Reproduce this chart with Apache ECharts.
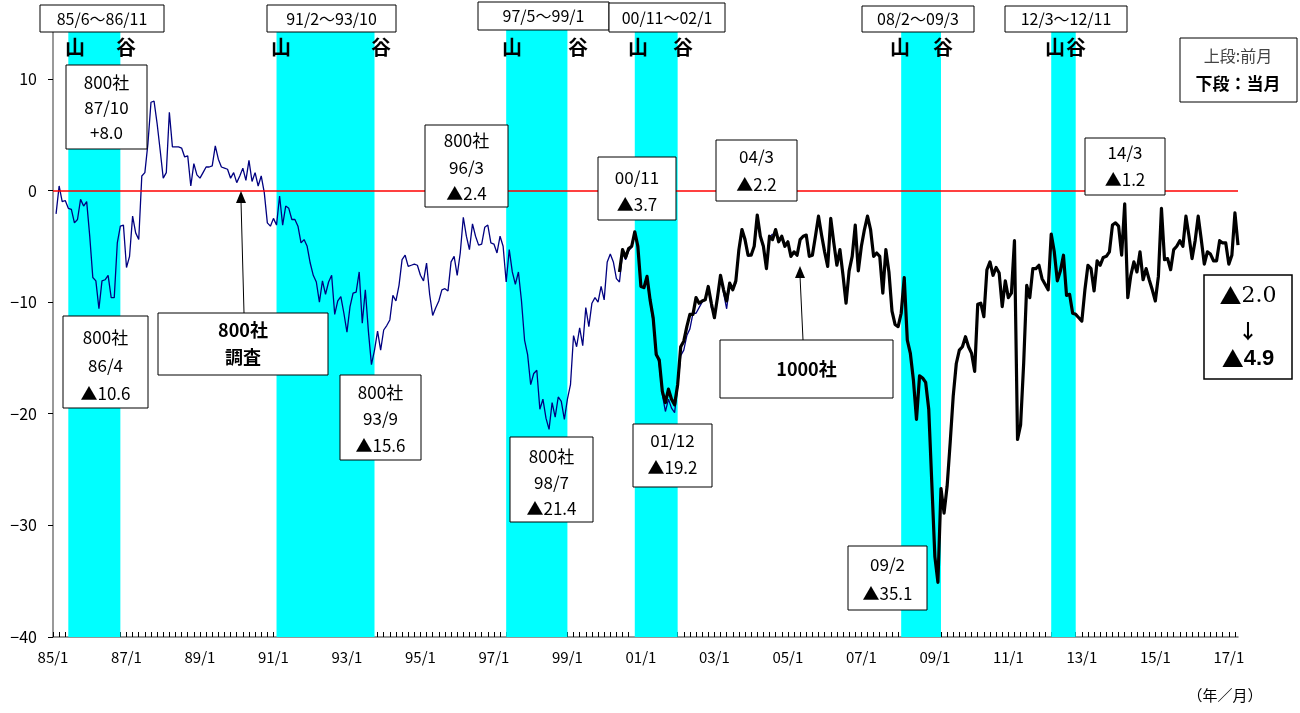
<!DOCTYPE html>
<html>
<head>
<meta charset="utf-8">
<script src="https://cdn.jsdelivr.net/npm/echarts@6/dist/echarts.min.js"></script>
<style>html,body{margin:0;padding:0;background:#fff}#c{width:1300px;height:713px}</style>
</head>
<body>
<div id="c"></div>
<script>
// ---- categories: monthly 85/1 .. 17/4 ----
const firstYear = 1985, lastYear = 2017, lastMonth = 4;
const categories = [];
for (let y = firstYear; y <= lastYear; y++) {
  for (let m = 1; m <= 12; m++) {
    if (y === lastYear && m > lastMonth) break;
    categories.push(String(y % 100).padStart(2, '0') + '/' + m);
  }
}

// ---- 800社調査 (85/1 .. 04/8) ----
const s800Start = '85/1';
const s800 = [
  null, -2.1, 0.4, -1.0, -0.9, -1.6, -1.7, -2.9, -2.6, -0.8,
  -1.4, -1.0, -4.1, -7.8, -8.1, -10.6, -8.1, -8.0, -7.6, -9.6,
  -9.6, -4.7, -3.2, -3.1, -6.9, -5.9, -2.3, -3.8, -4.4, 1.3,
  1.6, 4.2, 7.9, 8.0, 6.0, 3.6, 1.1, 1.6, 7.0, 3.9,
  3.9, 3.9, 3.8, 3.0, 3.1, 0.4, 2.4, 1.4, 1.1, 1.6,
  2.1, 2.1, 2.2, 4.0, 2.8, 2.1, 2.0, 1.9, 1.1, 1.6,
  0.7, 1.3, 2.0, 0.9, 2.7, 0.8, 1.6, 0.4, 1.3, -0.2,
  -2.9, -3.2, -2.5, -3.1, -0.5, -3.1, -1.4, -1.6, -2.6, -2.6,
  -3.2, -4.7, -4.4, -5.0, -6.5, -7.6, -8.2, -10.0, -8.1, -9.3,
  -8.2, -7.6, -11.1, -9.9, -9.5, -11.0, -12.7, -10.4, -9.2, -9.1,
  -7.3, -11.9, -8.9, -12.6, -15.6, -14.3, -12.6, -14.3, -12.5, -12.1,
  -11.6, -9.4, -9.9, -8.5, -6.2, -5.8, -6.8, -6.7, -6.6, -6.7,
  -7.6, -8.1, -6.5, -9.3, -11.2, -10.5, -9.9, -8.9, -8.8, -9.0,
  -6.4, -5.9, -7.6, -5.6, -2.4, -4.1, -5.3, -3.0, -4.1, -4.9,
  -4.8, -3.3, -3.1, -4.7, -4.8, -5.6, -4.1, -5.0, -8.2, -5.3,
  -7.3, -8.4, -7.3, -9.9, -13.4, -14.7, -17.4, -16.4, -16.1, -19.6,
  -18.7, -20.4, -21.4, -19.0, -20.3, -18.5, -18.9, -20.5, -18.7, -17.4,
  -13.0, -14.0, -12.3, -13.9, -10.5, -12.2, -10.1, -9.6, -10.0, -8.6,
  -9.8, -6.4, -5.7, -6.4, -7.9, -8.2, -5.6, -6.2, -5.4, -5.1,
  -3.8, -5.2, -8.5, -8.8, -7.9, -10.0, -11.8, -14.4, -15.6, -18.3,
  -19.8, -18.7, -19.5, -19.9, -17.6, -14.8, -14.3, -13.0, -12.4, -11.0,
  -11.0, -10.5, -10.0, -9.8, -8.7, -10.5, -11.0, -9.8, -7.6, -9.2,
  -10.6, -8.4, -8.9, -8.3, -5.3, -3.6, -4.6, -5.9, -5.8, -5.0,
  -2.3, -4.1, -5.2, -7.0, -4.2, -3.9
];

// ---- 1000社調査 (00/6 .. 17/4) ----
const s1000Start = '00/6';
const s1000 = [
  -7.3, -5.3, -6.0, -5.2, -5.0, -3.7, -5.0, -8.6, -8.7, -7.7,
  -9.8, -11.4, -14.7, -15.2, -18.0, -19.0, -17.8, -18.7, -19.2, -17.4,
  -14.0, -13.5, -12.2, -11.1, -11.1, -9.6, -10.1, -9.9, -9.8, -8.6,
  -10.1, -11.4, -9.6, -7.6, -8.9, -9.9, -8.3, -8.9, -8.1, -5.3,
  -3.5, -4.4, -5.8, -5.8, -5.0, -2.2, -4.1, -5.0, -7.0, -4.1,
  -4.4, -3.5, -4.6, -4.1, -5.0, -4.6, -5.9, -5.5, -5.8, -4.4,
  -4.1, -4.0, -5.9, -5.8, -4.1, -2.3, -4.0, -5.5, -6.8, -2.5,
  -4.7, -6.7, -5.3, -7.6, -10.1, -7.2, -5.9, -3.1, -7.2, -5.0,
  -3.5, -2.3, -3.5, -5.9, -5.6, -5.9, -9.2, -5.3, -7.3, -10.8,
  -12.0, -12.2, -11.0, -7.8, -13.4, -14.6, -17.0, -20.5, -16.6, -16.8,
  -17.2, -19.6, -26.2, -32.8, -35.1, -26.7, -28.9, -26.5, -22.6, -18.4,
  -15.5, -14.3, -14.0, -13.1, -14.0, -14.6, -16.2, -10.2, -10.1, -11.3,
  -7.1, -6.4, -7.6, -6.9, -7.4, -10.4, -8.1, -9.6, -9.2, -4.5,
  -22.3, -21.0, -15.5, -8.5, -9.6, -7.0, -7.0, -6.7, -7.9, -8.4,
  -8.9, -3.9, -5.5, -8.1, -7.2, -5.8, -9.4, -9.3, -11.0, -11.1,
  -11.4, -11.7, -8.9, -6.7, -7.0, -9.0, -6.3, -6.7, -6.0, -5.9,
  -5.5, -3.1, -2.9, -3.2, -5.8, -1.2, -9.6, -7.6, -6.4, -7.3,
  -5.5, -8.0, -7.0, -8.0, -8.9, -9.9, -7.7, -1.6, -6.2, -6.1,
  -7.1, -5.3, -5.0, -4.5, -5.0, -2.3, -4.1, -6.1, -4.5, -2.3,
  -4.4, -6.6, -5.5, -5.7, -6.3, -6.3, -4.5, -4.7, -4.7, -6.6,
  -5.8, -2.0, -4.9
];

// ---- recession periods (山 -> 谷) ----
const bandStarts = ['85/6', '91/2', '97/5', '00/11', '08/2', '12/3'];
const bandEnds   = ['86/11', '93/10', '99/1', '02/1', '09/3', '12/11'];
const bandLabels = ['85/6～86/11', '91/2～93/10', '97/5～99/1', '00/11～02/1', '08/2～09/3', '12/3～12/11'];

// ---- y axis ----
const yMin = -40, yMax = 15, yStep = 10;

function place(values, start) {
  const out = new Array(categories.length).fill(null);
  const off = categories.indexOf(start);
  values.forEach((v, i) => { out[off + i] = v; });
  return out;
}

const FONT = '"Noto Sans CJK JP", "Noto Sans", sans-serif';
const g = [];
function rect(x, y, w, h, lw) {
  g.push({ type: 'rect', z: 100, shape: { x: x, y: y, width: w, height: h },
    style: { fill: '#fff', stroke: '#000', lineWidth: lw || 1 } });
}
function txt(x, y, s, size, weight, color, family) {
  g.push({ type: 'text', z: 101, x: x, y: y,
    style: { text: s, fontSize: size, fontWeight: weight || 'normal', fontFamily: family || FONT,
      fill: color || '#000', align: 'center', verticalAlign: 'middle' } });
}
function box(x, y, w, h, lines, ys, size, weight) {
  rect(x, y, w, h);
  lines.forEach((s, i) => txt(x + w / 2, ys[i], s, size || 17, weight));
}

// top period boxes
const topBoxes = [[40, 5, 124, 27], [267, 5, 129, 27], [478, 2, 131, 28], [609, 3, 116, 29], [862, 6, 112, 26], [1005, 6, 122, 26]];
topBoxes.forEach((b, i) => box(b[0], b[1], b[2], b[3], [bandLabels[i]], [b[1] + b[3] / 2], 16));
// 山 / 谷 markers
const yamaX = [75, 281, 512, 638, 900, 1055];
const taniX = [126, 381, 578, 683, 943, 1076];
yamaX.forEach(x => txt(x, 47, '山', 20, 'bold'));
taniX.forEach(x => txt(x, 47, '谷', 20, 'bold'));

// value callouts
box(66, 65, 81, 84, ['800社', '87/10', '+8.0'], [83, 108, 133]);
box(63, 316, 85, 92, ['800社', '86/4', '▲10.6'], [338, 366, 394]);
box(425, 125, 83, 82, ['800社', '96/3', '▲2.4'], [141, 168, 194]);
box(340, 375, 81, 85, ['800社', '93/9', '▲15.6'], [393, 419, 446]);
box(510, 437, 83, 85, ['800社', '98/7', '▲21.4'], [457, 483, 509]);
box(598, 157, 78, 63, ['00/11', '▲3.7'], [178, 205]);
box(633, 424, 79, 63, ['01/12', '▲19.2'], [441, 468]);
box(716, 140, 81, 61, ['04/3', '▲2.2'], [157, 185]);
box(848, 546, 79, 64, ['09/2', '▲35.1'], [565, 594]);
box(1085, 138, 80, 57, ['14/3', '▲1.2'], [153, 180]);

// survey labels with arrows
function arrow(x1, y1, x2, y2) {
  g.push({ type: 'line', z: 99, shape: { x1: x1, y1: y1, x2: x2, y2: y2 + 10 }, style: { stroke: '#000', lineWidth: 1 } });
  g.push({ type: 'polygon', z: 99, shape: { points: [[x2, y2], [x2 - 5, y2 + 12], [x2 + 5, y2 + 12]] }, style: { fill: '#000' } });
}
arrow(244, 313, 241, 191);
box(158, 313, 170, 62, ['800社', '調査'], [330, 357], 18, 'bold');
arrow(803, 340, 800, 266);
box(720, 340, 173, 58, ['1000社'], [369], 18, 'bold');

// legend box
rect(1180, 38, 117, 64);
txt(1238, 56, '上段:前月', 16, 'normal', '#444');
txt(1238, 84, '下段：当月', 17, 'bold', '#000');

// latest change box
rect(1204, 275, 88, 104, 1.5);
g.push({ type: 'text', z: 101, x: 1248, y: 296, style: {
  text: '{a|▲}{b|2.0}', align: 'center', verticalAlign: 'middle',
  rich: { a: { fontSize: 22, fontFamily: FONT, fill: '#000' }, b: { fontSize: 22, fontFamily: '"DejaVu Serif", serif', fill: '#000' } } } });
txt(1248, 331, '↓', 20, 'bold');
g.push({ type: 'text', z: 101, x: 1248, y: 359, style: {
  text: '{a|▲}{b|4.9}', align: 'center', verticalAlign: 'middle',
  rich: { a: { fontSize: 22, fontFamily: FONT, fill: '#000' }, b: { fontSize: 22, fontWeight: 'bold', fontFamily: '"Liberation Sans", Arial, sans-serif', fill: '#000' } } } });

// unit
txt(1225, 695, '（年／月）', 15);

const chart = echarts.init(document.getElementById('c'), null, { renderer: 'canvas' });
chart.setOption({
  animation: false,
  backgroundColor: '#fff',
  grid: { left: 53, right: 62, top: 23, bottom: 76, containLabel: false },
  xAxis: {
    type: 'category', data: categories, boundaryGap: false,
    axisLine: { onZero: false, lineStyle: { color: '#777', width: 1.5 } },
    axisTick: { interval: 1, inside: true, length: 5, lineStyle: { color: '#000', width: 1 } },
    axisLabel: { interval: 23, color: '#000', fontSize: 15, fontFamily: FONT, margin: 13 },
    splitLine: { show: false }
  },
  yAxis: {
    type: 'value', min: yMin, max: yMax, interval: yStep,
    axisLine: { show: true, onZero: false, lineStyle: { color: '#777', width: 1.5 } },
    axisTick: { show: true, length: 5, lineStyle: { color: '#000' } },
    axisLabel: { color: '#000', fontSize: 16, fontFamily: FONT, margin: 16, showMaxLabel: false,
      formatter: v => String(v).replace('-', '−') },
    splitLine: { show: false }
  },
  series: [
    { type: 'line', data: [], z: 1, silent: true,
      markArea: { silent: true, itemStyle: { color: '#00FFFF', opacity: 1 },
        data: bandStarts.map((s, i) => [{ xAxis: s }, { xAxis: bandEnds[i] }]) } },
    { type: 'line', data: [], z: 2, silent: true,
      markLine: { silent: true, symbol: 'none', label: { show: false },
        lineStyle: { color: '#FF0000', width: 1.5, type: 'solid' }, data: [{ yAxis: 0 }] } },
    { name: '800社', type: 'line', data: place(s800, s800Start), z: 3, symbol: 'none', connectNulls: false,
      lineStyle: { color: '#000080', width: 1.3 } },
    { name: '1000社', type: 'line', data: place(s1000, s1000Start), z: 4, symbol: 'none',
      lineStyle: { color: '#000', width: 3.2, join: 'round' } }
  ],
  graphic: g
});
</script>
</body>
</html>
